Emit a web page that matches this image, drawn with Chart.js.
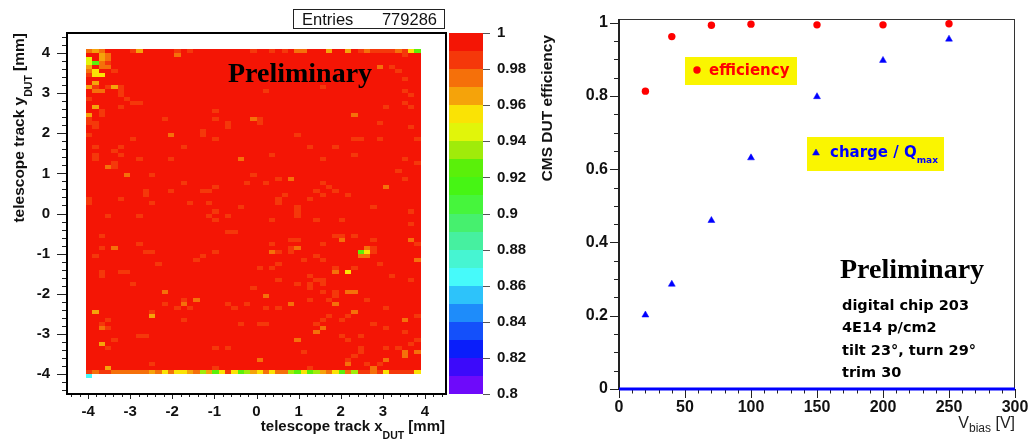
<!DOCTYPE html>
<html>
<head>
<meta charset="utf-8">
<title>CMS DUT efficiency map and bias scan</title>
<script src="https://cdn.jsdelivr.net/npm/chart.js@4.4.1/dist/chart.umd.min.js"></script>
<style>
  html, body { margin: 0; padding: 0; background: #fff; }
  #wrap { position: relative; width: 1029px; height: 441px; overflow: hidden; }
  canvas { position: absolute; top: 0; }
  #mapChart { left: 0; }
  #biasChart { left: 575px; }
</style>
</head>
<body>
<div id="wrap">
  <canvas id="mapChart" width="575" height="441"></canvas>
  <canvas id="biasChart" width="454" height="441"></canvas>
</div>
<script>
// ---- efficiency map: bins of 0.15 x 0.10 mm ----
const xLow = -4.05, xBinWidth = 0.15, xBins = 53;
const yHigh = 4.1, yBinHeight = 0.1, plateauRows = 81;
const plateauEff = 0.995;   // every bin not listed in lowBins
const entries = 779286;
const mapTicks = [-4, -3, -2, -1, 0, 1, 2, 3, 4];

// colour level of a bin -> efficiency
const levelEff = { o: 0.985, O: 0.975, a: 0.965, y: 0.955, l: 0.945, g: 0.935, G: 0.925, c: 0.865 };

// [row counted from the top, "column+level ..."]
const lowBins = [
  [0, '0O 1a 2O 7o 8a 14o 16o 26o 29o 31o 33O 34O 38a 41a 43o 44O 45o 46o 47o 48o 49O 50o 51y 52G'],
  [1, '2a 3O 14O 50o'],
  [2, '0l 2a 3O'],
  [3, '0l 1G 2O 3o'],
  [4, '0a 2O 3O 46O 48o'],
  [5, '0O 1y 4o 49o'],
  [6, '0o 1y 2y'],
  [7, '50o'],
  [8, '1a'],
  [9, '0a 1o 3o 4a 5o 37o'],
  [10, '1O 2O 5o 28o 50o'],
  [11, '5o 51o'],
  [12, '0o 6o'],
  [13, '7o 8o 50o'],
  [14, '1a 5o 47o 51o'],
  [15, '2o 20o'],
  [16, '0a 2o 42O'],
  [17, '0o 12o 20o 26O 27o'],
  [18, '0o 1o 22o 27o 46o'],
  [19, '1o 22o 51o'],
  [20, '18o'],
  [21, '0o 13O 18o 33o'],
  [22, '7o 20o 42o 43o 46o 52o'],
  [24, '1o 5o 15o 35o 39o'],
  [25, '4o'],
  [26, '1o 5o 29o 42o'],
  [27, '1o 8o 13o 24O 37o 50o'],
  [28, '4o 52o'],
  [29, '3O 4o'],
  [30, '49o'],
  [31, '6O 10o 26o'],
  [32, '30o 32O 50o'],
  [33, '15o 25o 28o 37o'],
  [34, '20o 38o 47O'],
  [35, '9o 13o 18o 19o 36o 39o'],
  [36, '9o 31o 37o 41o'],
  [37, '0o 5o 30o 35o'],
  [38, '0o 10o 16o 19o 30o'],
  [39, '24o 33o 45o'],
  [40, '20o 33o 51o'],
  [41, '3o 8o 19o 22o 33o'],
  [42, '20o 29o 36o 40o'],
  [43, '51o'],
  [45, '22o 23o'],
  [46, '2o 39o 40o 42o'],
  [47, '32o 33o 40O 45o 51O'],
  [48, '8o 29o 37o 52o'],
  [49, '2o 4O 32o 33O 44O 45o'],
  [50, '9o 10o 20o 29O 30o 32o 43G 44y 45o'],
  [51, '1o 18o 36o 43O 44O'],
  [52, '17o 34o 37o 52O'],
  [53, '11o 30o 46o'],
  [54, '27o 29o 39o 42o'],
  [55, '2o 5o 6o 39O 41y'],
  [56, '2o 35o 48o'],
  [57, '30o 36o 37o 51o'],
  [58, '7o 33o 35o 37o'],
  [59, '26o 35o'],
  [60, '12O 37o 39o 41O 42O'],
  [61, '28O 39o'],
  [62, '15o 17O 35o 38o 44o'],
  [63, '12o 15O 22o 25o 32O 39O'],
  [64, '14o 16o 23o 28o 30o 47o'],
  [65, '1a 10o 42O'],
  [66, '10a 38o 41o 52o'],
  [67, '3o 15o 37o 40o 50O'],
  [68, '2o 24o 27o 28o 36o 45o'],
  [69, '2O 3o 37O 47o'],
  [70, '36O 50o'],
  [71, '8o 9o 40o 43o'],
  [72, '4o 33O 41o 52o'],
  [73, '2a 51o'],
  [74, '3o 20o 22o 43o 47o 49o'],
  [75, '34o 43o 50O 52O'],
  [76, '42o 50O'],
  [77, '27O 41o 47O'],
  [78, '10o 41O 44o 46o'],
  [79, '3a 20o 35o 45O'],
  [80, '0o 1O 2o 3o 4O 5O 6O 7O 8O 9O 10a 11O 12y 13O 14y 15y 16a 17O 18g 19a 20G 21y 22o 23y 24G 25g 26a ' +
       '27y 28O 29y 30O 31O 32g 33G 34y 35G 36g 37a 38O 39y 40G 41O 42g 43o 44o 45O 46o 47y 48o 49o 50o 51o 52y'],
  [81, '0c']
];

// ---- bias scan ----
const biasVoltages = [20, 40, 70, 100, 150, 200, 250];
const efficiency = [0.813, 0.962, 0.993, 0.996, 0.994, 0.994, 0.997];
const chargeFraction = [0.202, 0.286, 0.460, 0.631, 0.798, 0.897, 0.955];
const infoLines = ['digital chip 203', '4E14 p/cm2', 'tilt 23\u00b0, turn 29\u00b0', 'trim 30'];

// rainbow palette, 20 steps from 0.80 to 1.00
const palette = ['#6E0AFA', '#3C0AFA', '#0A1EFA', '#1450FA', '#1E8CFA', '#2DC3FA', '#46FAFA', '#46F5D2',
  '#46F0A0', '#46F06E', '#46F53C', '#46F514', '#5AF00A', '#A0EB0A', '#E1F50A', '#FAE305',
  '#F5A30A', '#F5700A', '#F5380A', '#F41505'];
const zMin = 0.8, zMax = 1.0;

const SANS = "'Liberation Sans', Arial, sans-serif";
const DEJA = "'DejaVu Sans', sans-serif";
const SERIF = "'Liberation Serif', 'Times New Roman', serif";

function colorFor(v) {
  let k = Math.floor((v - zMin) / ((zMax - zMin) / palette.length) + 1e-9);
  return palette[Math.max(0, Math.min(palette.length - 1, k))];
}

function fillBin(ctx, xs, ys, x0, x1, y0, y1, color) {
  const px0 = Math.round(xs.getPixelForValue(x0)), px1 = Math.round(xs.getPixelForValue(x1));
  const py0 = Math.round(ys.getPixelForValue(y0)), py1 = Math.round(ys.getPixelForValue(y1));
  ctx.fillStyle = color;
  ctx.fillRect(Math.min(px0, px1), Math.min(py0, py1), Math.abs(px1 - px0), Math.abs(py1 - py0));
}

// fixed axis box size, no extra room reserved for edge labels
function fixSize(w, h) {
  return s => {
    if (w) s.width = w;
    if (h) s.height = h;
    s.paddingLeft = s.paddingRight = s.paddingTop = s.paddingBottom = 0;
  };
}

// minor/major tick marks drawn outside the frame
function tickMarks(ctx, scale, area, step, every, lenMajor, lenMinor, side) {
  const n0 = Math.ceil(scale.min / step - 1e-6), n1 = Math.floor(scale.max / step + 1e-6);
  ctx.save();
  ctx.strokeStyle = '#222';
  ctx.lineWidth = 1;
  ctx.beginPath();
  for (let i = n0; i <= n1; i++) {
    const len = (i % every === 0) ? lenMajor : lenMinor;
    const p = Math.round(scale.getPixelForValue(i * step)) + 0.5;
    if (side === 'bottom') { ctx.moveTo(p, area.bottom); ctx.lineTo(p, area.bottom + len); }
    else { ctx.moveTo(area.left, p); ctx.lineTo(area.left - len, p); }
  }
  ctx.stroke();
  ctx.restore();
}

// text with sub-scripts: parts = [{text, font, dy}]
function richText(ctx, parts, x, y, align) {
  let total = 0;
  parts.forEach(p => { ctx.font = p.font; p.w = ctx.measureText(p.text).width; total += p.w; });
  let cx = align === 'right' ? x - total : x;
  ctx.textAlign = 'left';
  ctx.textBaseline = 'alphabetic';
  parts.forEach(p => { ctx.font = p.font; ctx.fillText(p.text, cx, y + (p.dy || 0)); cx += p.w; });
}

const fmt = v => String(Number(v.toFixed(2)));

// ---------------- left: efficiency map ----------------
const heatmap = {
  id: 'heatmap',
  beforeDatasetsDraw(chart) {
    const { ctx, chartArea: a, scales: { x, y } } = chart;
    ctx.save();
    ctx.beginPath();
    ctx.rect(a.left, a.top, a.width, a.height);
    ctx.clip();
    fillBin(ctx, x, y, xLow, xLow + xBins * xBinWidth, yHigh, yHigh - plateauRows * yBinHeight, colorFor(plateauEff));
    lowBins.forEach(([row, cells]) => {
      const yt = yHigh - row * yBinHeight;
      cells.split(' ').forEach(tok => {
        const col = parseInt(tok, 10);
        const eff = levelEff[tok.slice(-1)];
        const xl = xLow + col * xBinWidth;
        fillBin(ctx, x, y, xl, xl + xBinWidth, yt, yt - yBinHeight, colorFor(eff));
      });
    });
    ctx.restore();
  },
  afterDraw(chart) {
    const { ctx, chartArea: a, scales: { x, y, z } } = chart;
    // colour bar
    const barL = a.right + 3, barW = 34;
    for (let k = 0; k < palette.length; k++) {
      const lo = zMin + k * (zMax - zMin) / palette.length, hi = lo + (zMax - zMin) / palette.length;
      const p0 = Math.round(z.getPixelForValue(hi)), p1 = Math.round(z.getPixelForValue(lo));
      ctx.fillStyle = palette[k];
      ctx.fillRect(barL, p0, barW, p1 - p0);
    }
    ctx.save();
    ctx.strokeStyle = '#555';
    ctx.lineWidth = 1;
    ctx.beginPath();
    for (let i = 0; i <= 10; i++) {
      const p = Math.round(z.getPixelForValue(zMin + i * 0.02)) + 0.5;
      ctx.moveTo(barL + barW, p);
      ctx.lineTo(barL + barW + 7, p);
    }
    ctx.stroke();
    ctx.restore();

    tickMarks(ctx, x, a, 0.2, 5, 5, 3, 'bottom');
    tickMarks(ctx, y, a, 0.2, 5, 10, 5, 'left');

    // frame
    ctx.save();
    ctx.strokeStyle = '#000';
    ctx.lineWidth = 2;
    ctx.strokeRect(a.left, a.top, a.width, a.height);

    ctx.fillStyle = '#000';
    ctx.font = `bold 28px ${SERIF}`;
    ctx.textAlign = 'left';
    ctx.fillText('Preliminary', 228, 82);

    // statistics box
    ctx.fillStyle = '#fff';
    ctx.fillRect(293, 9, 152, 19);
    ctx.lineWidth = 1;
    ctx.strokeStyle = '#222';
    ctx.strokeRect(293.5, 9.5, 151, 19);
    ctx.fillStyle = '#111';
    ctx.font = `16.5px ${SANS}`;
    ctx.textAlign = 'left';
    ctx.fillText('Entries', 302, 25);
    ctx.textAlign = 'right';
    ctx.fillText(String(entries), 437, 25);

    // axis titles
    ctx.fillStyle = '#111';
    richText(ctx, [
      { text: 'telescope track x', font: `bold 15px ${SANS}` },
      { text: 'DUT', font: `bold 10.5px ${SANS}`, dy: 8 },
      { text: ' [mm]', font: `bold 15px ${SANS}` }
    ], a.right - 1, 431, 'right');

    ctx.save();
    ctx.translate(24, a.top);
    ctx.rotate(-Math.PI / 2);
    richText(ctx, [
      { text: 'telescope track y', font: `bold 15.5px ${SANS}` },
      { text: 'DUT', font: `bold 10.5px ${SANS}`, dy: 8 },
      { text: ' [mm]', font: `bold 15.5px ${SANS}` }
    ], 0, 0, 'right');
    ctx.restore();

    ctx.save();
    ctx.translate(552, a.top + 2);
    ctx.rotate(-Math.PI / 2);
    richText(ctx, [{ text: 'CMS DUT efficiency', font: `bold 15.5px ${SANS}` }], 0, 0, 'right');
    ctx.restore();
    ctx.restore();
  }
};

const tickFont = { family: SANS, weight: 'bold', size: 15 };
const setMapTicks = s => { s.ticks = mapTicks.map(v => ({ value: v })); };

new Chart(document.getElementById('mapChart'), {
  type: 'scatter',
  data: { datasets: [] },
  options: {
    responsive: false,
    animation: false,
    layout: { padding: { top: 33, left: 0, right: 0, bottom: 0 } },
    plugins: { legend: { display: false }, tooltip: { enabled: false } },
    scales: {
      x: {
        type: 'linear', position: 'bottom', min: -4.5, max: 4.5,
        afterBuildTicks: setMapTicks,
        afterFit: fixSize(0, 47),
        grid: { display: false, drawTicks: false }, border: { display: false },
        ticks: { autoSkip: false, maxRotation: 0, padding: 9, color: '#111', font: tickFont }
      },
      y: {
        type: 'linear', position: 'left', min: -4.5, max: 4.5,
        afterBuildTicks: setMapTicks,
        afterFit: fixSize(67, 0),
        grid: { display: false, drawTicks: false }, border: { display: false },
        ticks: { autoSkip: false, padding: 17, color: '#111', font: tickFont }
      },
      z: {
        type: 'linear', axis: 'y', position: 'right', min: zMin, max: zMax,
        afterFit: fixSize(129, 0),
        grid: { display: false, drawTicks: false }, border: { display: false },
        ticks: { stepSize: 0.02, includeBounds: false, autoSkip: false, padding: 51, color: '#111', font: tickFont, callback: fmt }
      }
    }
  },
  plugins: [heatmap]
});

// ---------------- right: efficiency and charge vs bias ----------------
const biasDecor = {
  id: 'biasDecor',
  beforeDatasetsDraw(chart) {
    const { ctx, chartArea: a } = chart;
    ctx.save();
    ctx.strokeStyle = '#333';
    ctx.lineWidth = 1;
    ctx.strokeRect(a.left + 0.5, a.top + 0.5, a.width - 1, a.height);
    ctx.lineWidth = 2;
    ctx.strokeStyle = '#222';
    ctx.beginPath();
    ctx.moveTo(a.left, a.top);
    ctx.lineTo(a.left, a.bottom);
    ctx.stroke();
    ctx.restore();
    tickMarks(ctx, chart.scales.x, a, 10, 5, 9, 4.5, 'bottom');
    tickMarks(ctx, chart.scales.y, a, 0.05, 4, 9, 5, 'left');
  },
  afterDraw(chart) {
    const { ctx, chartArea: a } = chart;
    ctx.save();
    // legend boxes
    ctx.fillStyle = '#FAF500';
    ctx.fillRect(110, 57, 112, 28);
    ctx.fillRect(232, 137, 137, 34);
    ctx.fillStyle = '#F00';
    ctx.beginPath();
    ctx.arc(122, 70, 3.7, 0, 2 * Math.PI);
    ctx.fill();
    ctx.textAlign = 'left';
    ctx.font = `bold 15px ${DEJA}`;
    ctx.fillText('efficiency', 134, 75);

    ctx.fillStyle = '#0000FF';
    ctx.strokeStyle = '#0000FF';
    ctx.lineWidth = 0.5;
    Chart.helpers.drawPoint(ctx, { pointStyle: 'triangle', radius: 4, rotation: 0, borderWidth: 0.5 }, 241, 153);
    ctx.fillStyle = '#0000FF';
    richText(ctx, [
      { text: 'charge / Q', font: `bold 15px ${DEJA}` },
      { text: 'max', font: `bold 9px ${DEJA}`, dy: 6 }
    ], 255, 157, 'left');

    ctx.fillStyle = '#000';
    ctx.font = `bold 28px ${SERIF}`;
    ctx.fillText('Preliminary', 265, 278);
    ctx.font = `bold 14.5px ${DEJA}`;
    const base = [310, 332, 355, 377];
    infoLines.forEach((t, i) => ctx.fillText(t, 267, base[i]));

    ctx.fillStyle = '#222';
    richText(ctx, [
      { text: 'V', font: `16px ${SANS}` },
      { text: 'bias', font: `12px ${SANS}`, dy: 4 },
      { text: ' [V]', font: `16px ${SANS}` }
    ], a.right, 428, 'right');
    ctx.restore();
  }
};

const rightTickFont = { family: SANS, weight: 'bold', size: 16 };

new Chart(document.getElementById('biasChart'), {
  type: 'scatter',
  data: {
    datasets: [
      {
        label: 'efficiency',
        data: biasVoltages.map((v, i) => ({ x: v, y: efficiency[i] })),
        pointStyle: 'circle', pointRadius: 3.7,
        backgroundColor: '#F00', borderColor: '#F00', borderWidth: 0
      },
      {
        label: 'charge / Qmax',
        data: biasVoltages.map((v, i) => ({ x: v, y: chargeFraction[i] })),
        pointStyle: 'triangle', pointRadius: 4,
        backgroundColor: '#0000FF', borderColor: '#0000FF', borderWidth: 0.5
      },
      {
        type: 'line',
        label: 'zero',
        data: [{ x: 0, y: 0 }, { x: 300, y: 0 }],
        borderColor: '#0000FF', borderWidth: 3, pointRadius: 0, clip: false
      }
    ]
  },
  options: {
    responsive: false,
    animation: false,
    layout: { padding: { top: 19, left: 0, right: 14, bottom: 0 } },
    plugins: { legend: { display: false }, tooltip: { enabled: false } },
    scales: {
      x: {
        type: 'linear', position: 'bottom', min: 0, max: 300,
        afterFit: fixSize(0, 52),
        grid: { display: false, drawTicks: false }, border: { display: false },
        ticks: { stepSize: 50, autoSkip: false, maxRotation: 0, padding: 9, color: '#111', font: rightTickFont }
      },
      y: {
        type: 'linear', position: 'left', min: 0, max: 1.01,
        afterFit: fixSize(44, 0),
        grid: { display: false, drawTicks: false }, border: { display: false },
        ticks: { stepSize: 0.2, includeBounds: false, autoSkip: false, padding: 11, color: '#111', font: rightTickFont, callback: fmt }
      }
    }
  },
  plugins: [biasDecor]
});
</script>
</body>
</html>
